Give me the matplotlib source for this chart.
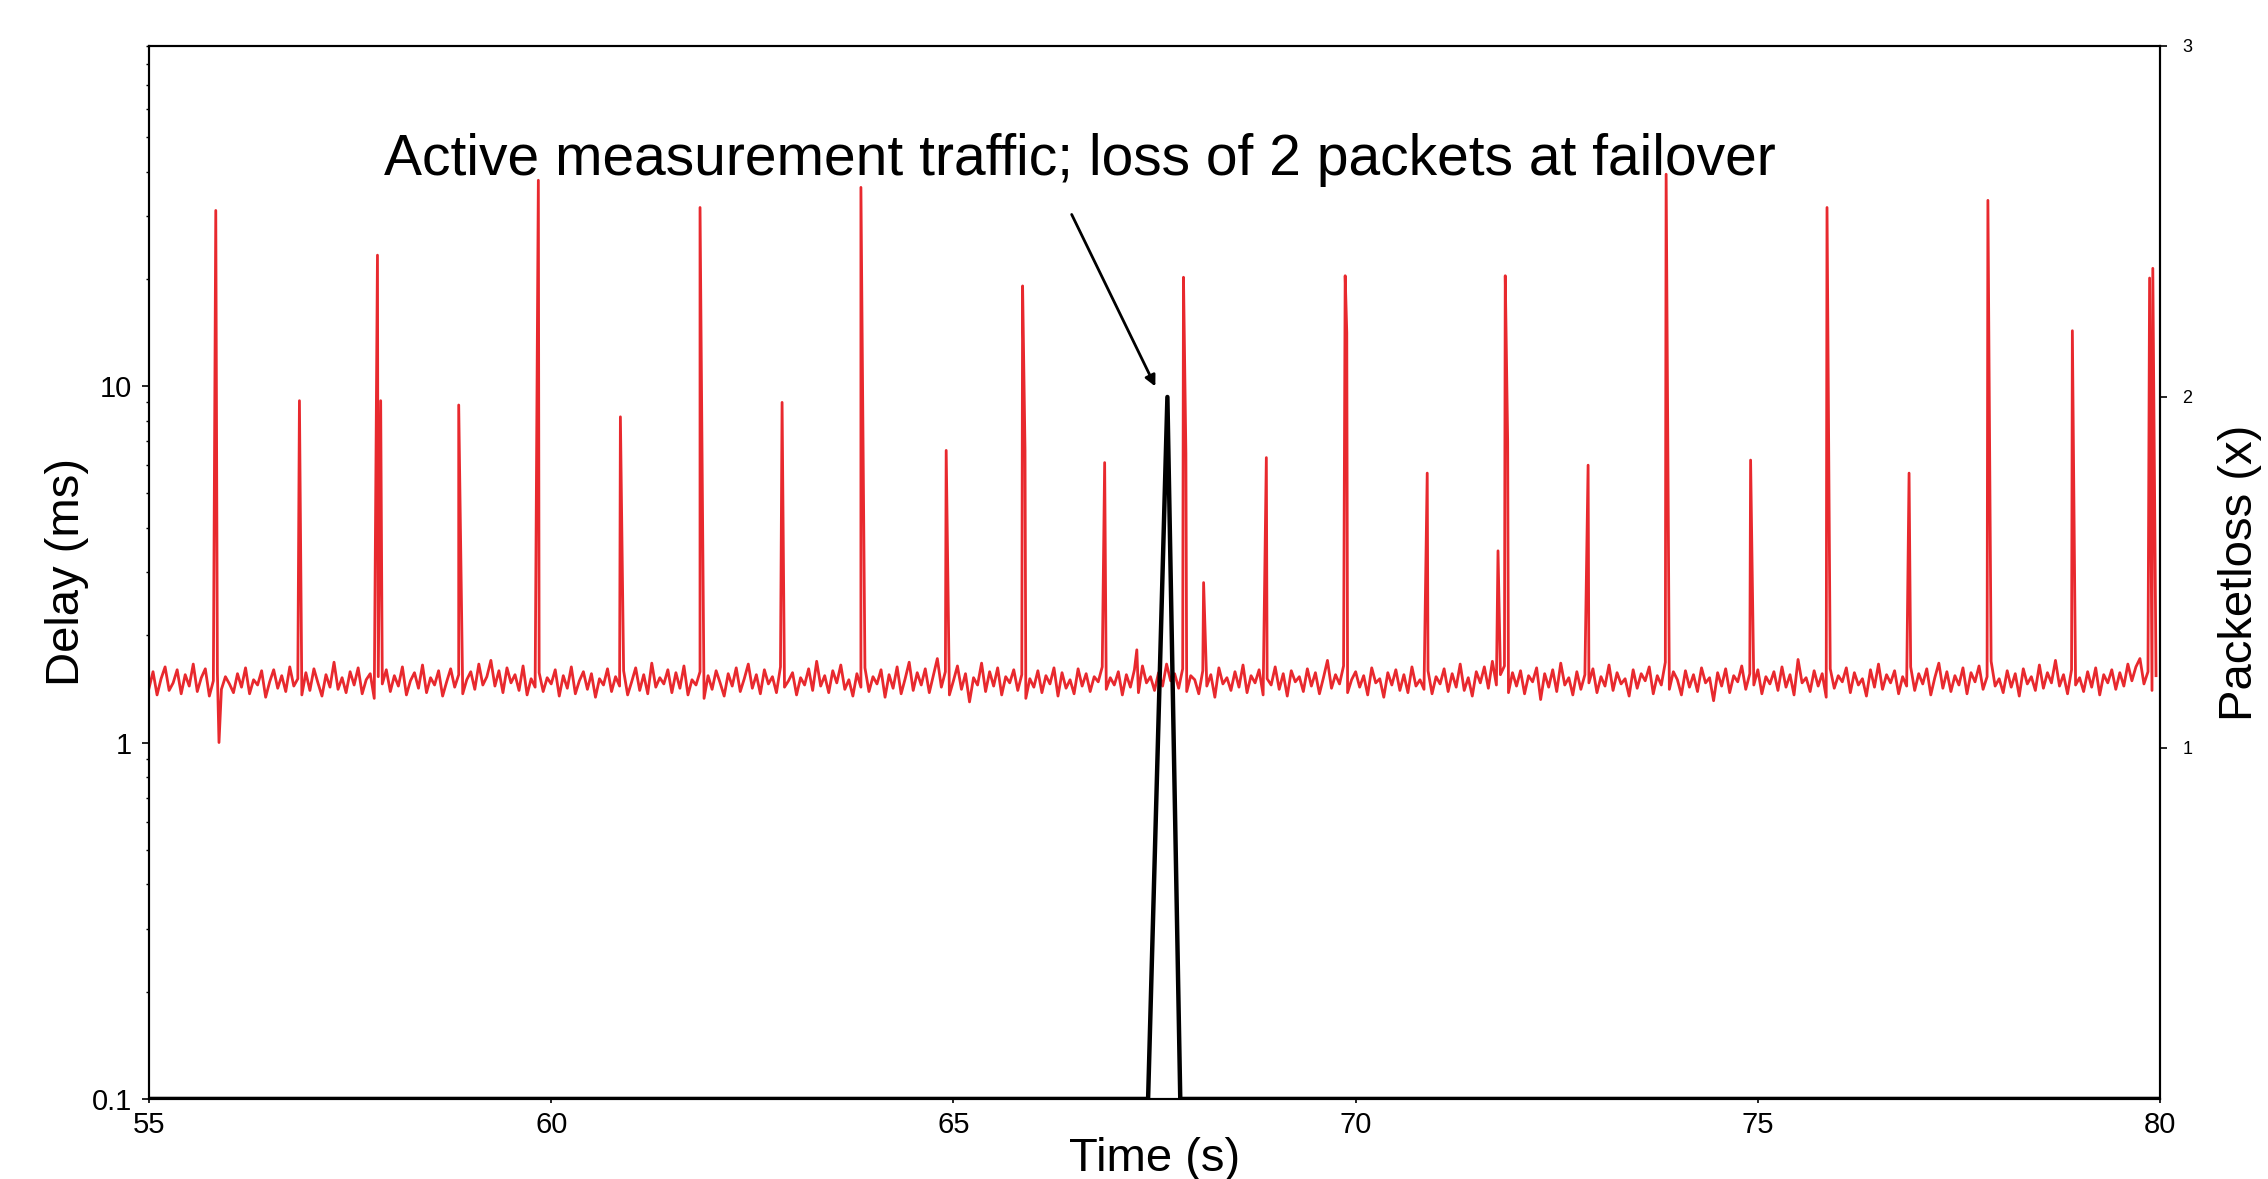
import numpy as np
import matplotlib
matplotlib.use('Agg')
import matplotlib.pyplot as plt
from matplotlib.ticker import NullFormatter, LogLocator

plt.rcParams['font.family'] = ['Liberation Sans', 'DejaVu Sans']

# baseline delay samples (ms), one every 50 ms from t = 55 s, one row per second
noise_t0 = 55.0
noise_dt = 0.05
delay_base_ms = [
    1.42, 1.58, 1.36, 1.51, 1.63, 1.40, 1.47, 1.60, 1.37, 1.55, 1.44, 1.66, 1.39, 1.52, 1.61, 1.35, 1.49, 1.57, 1.41, 1.53,
    1.46, 1.38, 1.56, 1.43, 1.62, 1.37, 1.50, 1.45, 1.59, 1.34, 1.48, 1.60, 1.42, 1.54, 1.39, 1.63, 1.44, 1.51, 1.36, 1.57,
    1.40, 1.61, 1.47, 1.35, 1.55, 1.43, 1.68, 1.41, 1.52, 1.38, 1.58, 1.45, 1.62, 1.37, 1.50, 1.56, 1.33, 1.53, 1.46, 1.60,
    1.39, 1.54, 1.44, 1.63, 1.36, 1.49, 1.57, 1.42, 1.65, 1.38, 1.52, 1.45, 1.59, 1.35, 1.48, 1.61, 1.43, 1.55, 1.37, 1.50,
    1.58, 1.41, 1.66, 1.45, 1.53, 1.70, 1.44, 1.59, 1.38, 1.62, 1.47, 1.55, 1.40, 1.64, 1.36, 1.51, 1.43, 1.57, 1.39, 1.52,
    1.46, 1.60, 1.35, 1.54, 1.42, 1.63, 1.37, 1.49, 1.58, 1.41, 1.56, 1.34, 1.51, 1.45, 1.61, 1.39, 1.53, 1.44, 1.59, 1.36,
    1.48, 1.62, 1.40, 1.55, 1.37, 1.67, 1.43, 1.52, 1.46, 1.60, 1.38, 1.57, 1.42, 1.64, 1.36, 1.50, 1.45, 1.58, 1.33, 1.54,
    1.41, 1.59, 1.47, 1.35, 1.56, 1.44, 1.62, 1.39, 1.51, 1.66, 1.42, 1.55, 1.37, 1.60, 1.46, 1.53, 1.38, 1.63, 1.43, 1.49,
    1.57, 1.36, 1.52, 1.45, 1.61, 1.40, 1.69, 1.44, 1.54, 1.38, 1.59, 1.47, 1.65, 1.41, 1.50, 1.35, 1.56, 1.43, 1.62, 1.39,
    1.53, 1.46, 1.60, 1.34, 1.55, 1.42, 1.63, 1.37, 1.51, 1.68, 1.40, 1.57, 1.45, 1.61, 1.38, 1.54, 1.72, 1.43, 1.58, 1.36,
    1.49, 1.64, 1.41, 1.56, 1.30, 1.52, 1.45, 1.67, 1.39, 1.58, 1.44, 1.62, 1.36, 1.53, 1.47, 1.60, 1.40, 1.55, 1.33, 1.51,
    1.43, 1.59, 1.38, 1.54, 1.46, 1.62, 1.35, 1.57, 1.42, 1.50, 1.37, 1.61, 1.44, 1.56, 1.39, 1.53, 1.48, 1.63, 1.41, 1.52,
    1.45, 1.58, 1.36, 1.55, 1.43, 1.60, 1.38, 1.64, 1.47, 1.53, 1.40, 1.57, 1.44, 1.66, 1.49, 1.56, 1.42, 1.61, 1.39, 1.54,
    1.50, 1.37, 1.59, 1.44, 1.55, 1.34, 1.62, 1.46, 1.52, 1.40, 1.58, 1.43, 1.65, 1.38, 1.54, 1.47, 1.60, 1.36, 1.51, 1.45,
    1.63, 1.41, 1.56, 1.35, 1.59, 1.48, 1.53, 1.39, 1.61, 1.44, 1.57, 1.37, 1.52, 1.70, 1.42, 1.55, 1.46, 1.64, 1.38, 1.50,
    1.58, 1.43, 1.54, 1.36, 1.62, 1.47, 1.51, 1.34, 1.57, 1.45, 1.60, 1.40, 1.55, 1.38, 1.63, 1.44, 1.50, 1.41, 1.59, 1.37,
    1.53, 1.46, 1.61, 1.39, 1.56, 1.43, 1.66, 1.40, 1.52, 1.35, 1.58, 1.47, 1.63, 1.42, 1.69, 1.45, 1.55, 1.64, 1.38, 1.57,
    1.44, 1.59, 1.37, 1.54, 1.48, 1.62, 1.32, 1.56, 1.43, 1.60, 1.39, 1.67, 1.45, 1.52, 1.36, 1.58, 1.41, 1.55, 1.47, 1.61,
    1.38, 1.53, 1.44, 1.65, 1.40, 1.57, 1.46, 1.51, 1.35, 1.60, 1.42, 1.56, 1.49, 1.63, 1.37, 1.54, 1.45, 1.68, 1.41, 1.58,
    1.50, 1.36, 1.59, 1.43, 1.55, 1.39, 1.62, 1.47, 1.52, 1.31, 1.57, 1.44, 1.61, 1.38, 1.54, 1.48, 1.64, 1.41, 1.56, 1.45,
    1.60, 1.37, 1.53, 1.46, 1.58, 1.40, 1.63, 1.43, 1.55, 1.36, 1.71, 1.47, 1.52, 1.39, 1.59, 1.44, 1.56, 1.34, 1.61, 1.42,
    1.54, 1.48, 1.62, 1.38, 1.57, 1.45, 1.51, 1.35, 1.60, 1.43, 1.66, 1.41, 1.55, 1.47, 1.59, 1.37, 1.53, 1.44, 1.63, 1.40,
    1.56, 1.46, 1.61, 1.36, 1.52, 1.67, 1.42, 1.58, 1.39, 1.54, 1.45, 1.62, 1.37, 1.57, 1.48, 1.64, 1.41, 1.53, 1.69, 1.44,
    1.51, 1.38, 1.59, 1.43, 1.56, 1.35, 1.61, 1.46, 1.53, 1.40, 1.65, 1.42, 1.57, 1.47, 1.70, 1.44, 1.55, 1.37, 1.60, 1.45,
    1.52, 1.39, 1.58, 1.43, 1.62, 1.36, 1.55, 1.47, 1.60, 1.41, 1.57, 1.44, 1.66, 1.49, 1.63, 1.72, 1.46, 1.58, 1.40, 1.54,
]

# delay spikes (s, ms)
spike_t = [55.83, 55.87, 56.87, 57.84, 57.88, 58.85, 59.84, 60.86, 61.85, 62.87,
           63.85, 64.91, 65.86, 65.89, 66.88, 67.28, 67.86, 67.89, 68.11, 68.89,
           69.87, 69.89, 70.89, 71.77, 71.86, 71.89, 72.89, 73.86, 74.91, 75.86,
           76.88, 77.86, 78.91, 79.87, 79.91]
spike_ms = [31.1, 1.0, 9.1, 23.3, 9.1, 8.85, 37.8, 8.2, 31.7, 9.0,
            36.1, 6.6, 19.1, 6.6, 6.1, 1.82, 20.2, 6.45, 2.81, 6.3,
            20.4, 14.1, 5.7, 3.45, 20.4, 7.0, 6.0, 39.3, 6.2, 31.7,
            5.7, 33.2, 14.3, 20.1, 21.4]

# packet loss count
loss_t = [55.0, 67.42, 67.66, 67.82, 80.0]
loss_x = [0, 0, 2, 0, 0]

xticks = [55, 60, 65, 70, 75, 80]
delay_ticks = [0.1, 1, 10]
loss_ticks = [1, 2, 3]

# merge baseline samples and spikes into one time-ordered series
base_t = noise_t0 + noise_dt * np.arange(len(delay_base_ms))
t_all = np.concatenate([base_t, spike_t])
d_all = np.concatenate([delay_base_ms, spike_ms])
order = np.argsort(t_all, kind='stable')
t_all, d_all = t_all[order], d_all[order]

fig = plt.figure(figsize=(22.68, 11.79), dpi=100)
ax1 = fig.add_axes([0.0657, 0.0679, 0.8867, 0.8931])
ax2 = ax1.twinx()

ax1.plot(t_all, d_all, color='#e8292e', lw=2.0)
ax1.set_yscale('log')
ax1.set_xlim(55, 80)
ax1.set_ylim(0.1, 90)
ax1.set_xticks(xticks)
ax1.set_xticklabels([str(x) for x in xticks])
ax1.set_yticks(delay_ticks)
ax1.set_yticklabels(['0.1', '1', '10'])
ax1.yaxis.set_minor_locator(LogLocator(base=10, subs=np.arange(2, 10)))
ax1.yaxis.set_minor_formatter(NullFormatter())
ax1.tick_params(axis='x', labelsize=21, length=3, width=1.2, pad=6, direction='out')
ax1.tick_params(axis='y', which='major', labelsize=21, length=5, width=1.2, pad=7, direction='out')
ax1.tick_params(axis='y', which='minor', length=2.5, width=1.0, direction='out')
ax1.set_xlabel('Time (s)', fontsize=34)
ax1.xaxis.set_label_coords(0.5, -0.036)
ax1.set_ylabel('Delay (ms)', fontsize=34)
ax1.yaxis.set_label_coords(-0.030, 0.5)

ax2.plot(loss_t, loss_x, color='black', lw=3.2, solid_joinstyle='round')
ax2.set_ylim(0, 3)
ax2.set_yticks(loss_ticks)
ax2.set_yticklabels([str(v) for v in loss_ticks])
ax2.tick_params(axis='y', labelsize=13, length=5, width=1.2, pad=11, direction='out')
ax2.set_ylabel('Packetloss (x)', fontsize=34)
ax2.yaxis.set_label_coords(1.029, 0.5)

for ax in (ax1, ax2):
    for s in ax.spines.values():
        s.set_linewidth(1.5)
        s.set_color('black')

ax2.text(66.57, 2.632, 'Active measurement traffic; loss of 2 packets at failover',
         fontsize=41, ha='center', va='baseline')
ax2.annotate('', xy=(67.51, 2.03), xytext=(66.47, 2.52),
             arrowprops=dict(arrowstyle='-|>', lw=2, color='black', mutation_scale=16,
                             shrinkA=0, shrinkB=0))

fig.savefig('out.png', dpi=100)
